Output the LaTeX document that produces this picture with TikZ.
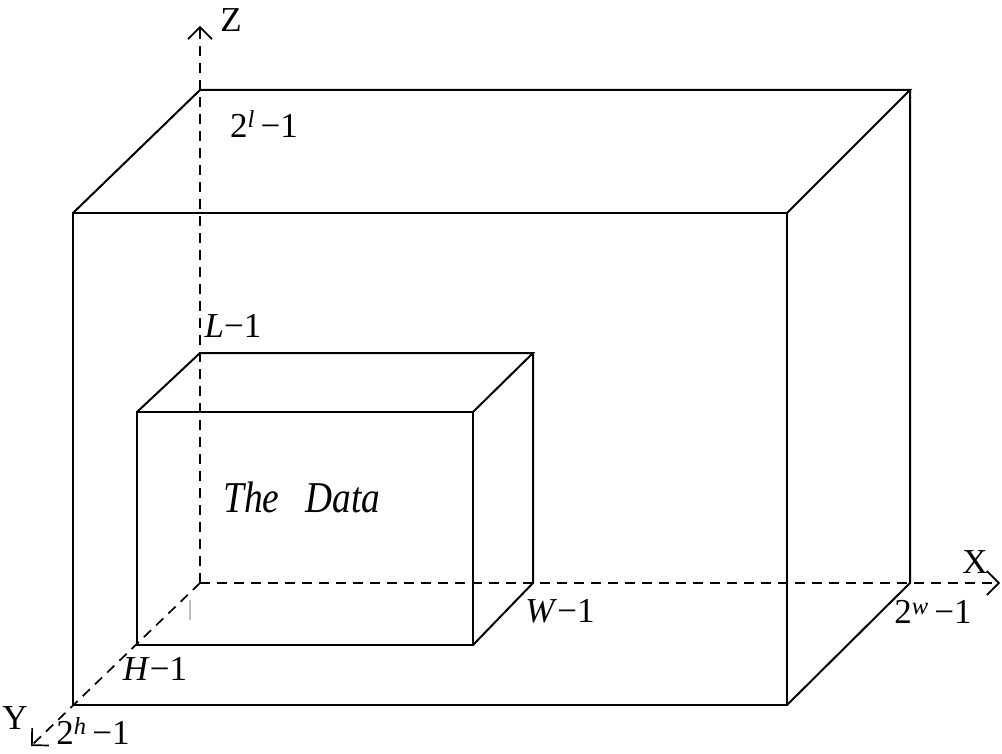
\documentclass[tikz,border=0pt]{standalone}
\usepackage{fontspec}
\setmainfont{Liberation Serif}
\usetikzlibrary{arrows.meta}
\begin{document}
\begin{tikzpicture}[x=1pt,y=-1pt,
  edge/.style={line width=2pt},
  axis/.style={line width=1.7pt,dash pattern=on 10pt off 7pt},
  tip/.style={-{Straight Barb[length=12pt,width=24pt,line width=1.7pt]}},
  lab/.style={inner sep=0pt,font=\fontsize{35}{38}\selectfont},
  big/.style={inner sep=0pt,xscale=0.85,font=\fontsize{44}{46}\selectfont\itshape}]
\useasboundingbox (0,0) rectangle (1002,754);
\fill[white] (0,0) rectangle (1002,754);
% coordinates
\coordinate (O) at (200,583);
\coordinate (Ztip) at (200,26);
\coordinate (Xtip) at (1000,583);
\coordinate (Ytip) at (31,746);
% big box
\coordinate (B1) at (73,213);
\coordinate (B2) at (787,213);
\coordinate (B3) at (787,705);
\coordinate (B4) at (73,705);
\coordinate (B5) at (200,90);
\coordinate (B6) at (910,90);
\coordinate (B7) at (910,583);
% small box
\coordinate (S1) at (137,412);
\coordinate (S2) at (473,412);
\coordinate (S3) at (473,645);
\coordinate (S4) at (137,645);
\coordinate (S5) at (200,353);
\coordinate (S6) at (533,353);
\coordinate (S7) at (533,583);
% axes
\draw[axis,tip] (O) -- (Ztip);
\draw[axis,tip] (O) -- (Xtip);
\draw[axis,tip] (O) -- (Ytip);
% big box edges
\draw[edge] (B1) -- (B2) -- (B3) -- (B4) -- cycle;
\draw[edge] (B1) -- (B5) -- (B6) -- (B2);
\draw[edge] (B6) -- (B7) -- (B3);
% small box edges
\draw[edge] (S1) -- (S2) -- (S3) -- (S4) -- cycle;
\draw[edge] (S1) -- (S5) -- (S6) -- (S2);
\draw[edge] (S6) -- (S7) -- (S3);
% faint tick
\coordinate (T1) at (190,600);
\coordinate (T2) at (190,620);
\draw[gray!50,line width=1.2pt] (T1) -- (T2);
% labels
\node[lab] (zl) at (231,20) {Z};
\node[lab] (xl) at (975,562) {X};
\node[lab] (yl) at (15,718) {Y};
\node[lab] (l2) at (264,124) {2\textsuperscript{\textit{l}}\,−1};
\node[lab] (lL) at (233,326) {\textit{L}−1};
\node[lab] (lW) at (560,611) {\textit{W}−1};
\node[lab] (l2w) at (933,612) {2\textsuperscript{\textit{w}}\,−1};
\node[lab] (lH) at (155,669) {\textit{H}−1};
\node[lab] (l2h) at (93,731) {2\textsuperscript{\textit{h}}\,−1};
\node[big] (data) at (302,497) {The\hspace{0.7em}Data};
\end{tikzpicture}
\end{document}
